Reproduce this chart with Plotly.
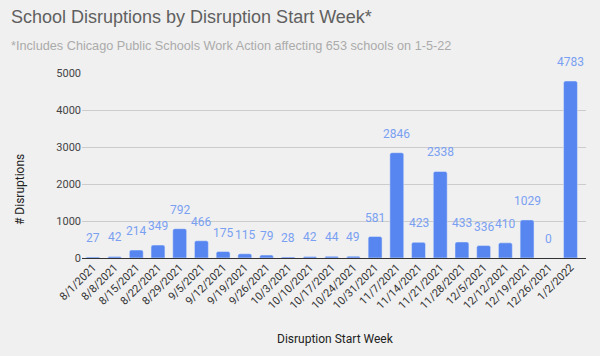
import plotly.graph_objects as go

weeks = ["8/1/2021", "8/8/2021", "8/15/2021", "8/22/2021", "8/29/2021", "9/5/2021",
         "9/12/2021", "9/19/2021", "9/26/2021", "10/3/2021", "10/10/2021", "10/17/2021",
         "10/24/2021", "10/31/2021", "11/7/2021", "11/14/2021", "11/21/2021", "11/28/2021",
         "12/5/2021", "12/12/2021", "12/19/2021", "12/26/2021", "1/2/2022"]
disruptions = [27, 42, 214, 349, 792, 466, 175, 115, 79, 28, 42, 44, 49, 581, 2846,
               423, 2338, 433, 336, 410, 1029, 0, 4783]
y_ticks = [0, 1000, 2000, 3000, 4000, 5000]

bg = "#f0f0f0"
L, R, T, B = 82, 14, 73, 98
W, H = 600, 356
pw, ph = W - L - R, H - T - B


def px_x(p):
    return (p - L) / pw


def px_y(p):
    return (H - B - p) / ph


fig = go.Figure()
fig.add_trace(go.Bar(
    x=weeks, y=disruptions,
    marker=dict(color="#5886f0", cornerradius=2),
    hoverinfo="x+y",
))
anns = []
for w, v in zip(weeks, disruptions):
    anns.append(dict(x=w, y=v, text=str(v), showarrow=False, yshift=19,
                     font=dict(family="Roboto, Arial", size=12, color="#7aa0f2")))

anns += [
    dict(text="School Disruptions by Disruption Start Week*", xref="paper", yref="paper",
         x=px_x(9), y=px_y(17), xanchor="left", yanchor="middle", showarrow=False,
         font=dict(family="Liberation Sans, Arial", size=18, color="#606060")),
    dict(text="*Includes Chicago Public Schools Work Action affecting 653 schools on 1-5-22",
         xref="paper", yref="paper", x=px_x(9), y=px_y(46), xanchor="left", yanchor="middle",
         showarrow=False, font=dict(family="Liberation Sans, Arial", size=12.7, color="#ababab")),
    dict(text="# Disruptions", xref="paper", yref="paper", x=px_x(20), y=px_y(190),
         xanchor="center", yanchor="middle", textangle=-90, showarrow=False,
         font=dict(family="Roboto, Arial", size=12, color="#222")),
    dict(text="Disruption Start Week", xref="paper", yref="paper", x=px_x(335), y=px_y(339),
         xanchor="center", yanchor="middle", showarrow=False,
         font=dict(family="Roboto, Arial", size=12, color="#222")),
]

fig.update_layout(
    width=W, height=H,
    paper_bgcolor=bg, plot_bgcolor=bg,
    margin=dict(l=L, r=R, t=T, b=B, autoexpand=False),
    bargap=0.36,
    showlegend=False,
    annotations=anns,
)
fig.update_xaxes(
    tickangle=-45, tickfont=dict(family="Roboto, Arial", size=11, color="#333"),
    showgrid=False, ticks="", automargin=False,
)
fig.update_yaxes(
    range=[0, 5000], tickvals=y_ticks,
    tickfont=dict(family="Roboto, Arial", size=11, color="#444"),
    gridcolor="#cccccc", zeroline=True, zerolinecolor="#333", zerolinewidth=1,
    ticks="", automargin=False,
)
fig.write_html("out.html", config={"displayModeBar": False},
               post_script="document.body.style.margin='0';document.body.style.background='#f0f0f0';")
